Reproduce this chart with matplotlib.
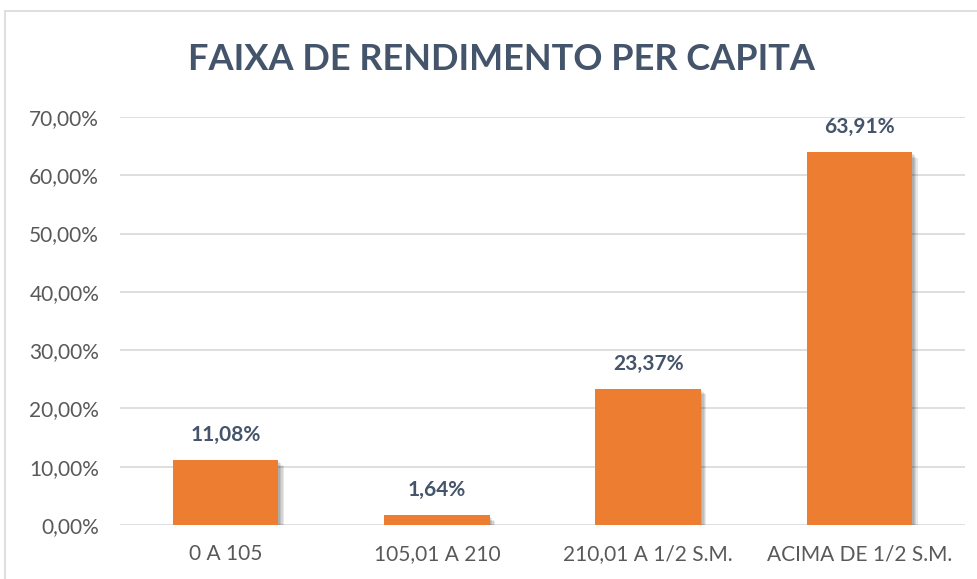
import matplotlib
matplotlib.use("Agg")
import matplotlib.pyplot as plt
import matplotlib.patheffects as pe
from matplotlib.patches import Rectangle

categories = ["0 A 105", "105,01 A 210", "210,01 A 1/2 S.M.", "ACIMA DE 1/2 S.M."]
values = [11.08, 1.64, 23.37, 63.91]
yticks = [0, 10, 20, 30, 40, 50, 60, 70]

plt.rcParams['font.family'] = ['Lato', 'DejaVu Sans']

fig = plt.figure(figsize=(9.77, 5.79), dpi=100)
fig.patch.set_facecolor('white')
# chart border
fig.patches.append(Rectangle((5/977, -0.01), 1.0, 1 - 11/579 + 0.01, transform=fig.transFigure,
                             fill=False, edgecolor='#D9D9D9', linewidth=1.2))

ax = fig.add_axes([120/977, 54/579, (965-120)/977, (525-117)/579])
x = list(range(len(categories)))
bars = ax.bar(x, values, width=0.5, color='#ED7D31', zorder=3)
shadow = []
for off in [(1.0, -1.0), (2.0, -2.0), (3.0, -3.0), (4.0, -4.0)]:
    shadow.append(pe.SimplePatchShadow(offset=off, shadow_rgbFace='#000000', alpha=0.09))
for b in bars:
    b.set_path_effects(shadow + [pe.Normal()])

ax.set_xlim(-0.5, len(categories) - 0.5)
ax.set_ylim(0, 70)
ax.set_yticks(yticks)
ax.set_yticklabels([f"{v:.2f}%".replace('.', ',') for v in yticks])
ax.set_xticks(x)
ax.set_xticklabels(categories)
ax.tick_params(axis='both', length=0, labelsize=15, colors='#595959')
ax.tick_params(axis='y', pad=15)
ax.tick_params(axis='x', pad=14)
ax.grid(axis='y', color='#D9D9D9', linewidth=1.2, zorder=0)
for s in ax.spines.values():
    s.set_visible(False)

for xi, v in zip(x, values):
    ax.annotate(f"{v:.2f}%".replace('.', ','), (xi, v), xytext=(0, 11), textcoords='offset points',
                ha='center', va='bottom', fontsize=15, fontweight='bold', color='#44546A')

fig.text(501/977, 1 - 59/579, "FAIXA DE RENDIMENTO PER CAPITA", ha='center', va='center',
         fontsize=26, fontweight='bold', color='#44546A')

fig.savefig('out.png', dpi=100)
